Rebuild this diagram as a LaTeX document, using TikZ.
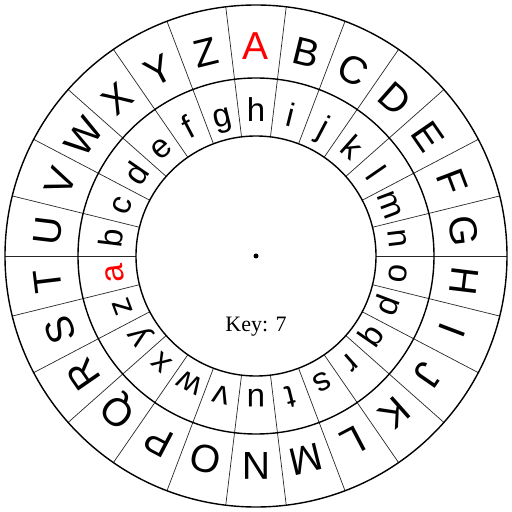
\documentclass[tikz,border=0pt]{standalone}
\usepackage{fontspec}
\newfontfamily\wheelfont{Liberation Sans}
\newfontfamily\keyfont{Liberation Serif}
\usetikzlibrary{calc}
\definecolor{wheelred}{RGB}{255,0,0}
\begin{document}
\begin{tikzpicture}[x=1pt,y=1pt,
  ring/.style={draw=black,line width=1.4pt},
  divider/.style={draw=black!85,line width=0.7pt},
  bigletter/.style={font=\wheelfont\fontsize{39}{39}\selectfont,anchor=base,inner sep=0pt},
  smallletter/.style={font=\wheelfont\fontsize{33}{33}\selectfont,anchor=base,inner sep=0pt},
  keytext/.style={font=\keyfont\fontsize{22}{22}\selectfont,anchor=base,inner sep=0pt}]
\useasboundingbox (0,0) rectangle (512,512);
\coordinate (c) at (256,256);
% dividers
\foreach \k in {0,...,25}{
  \pgfmathsetmacro{\ang}{90+360/52+\k*360/26}
  \draw[divider] ($(c)+(\ang:120)$) -- ($(c)+(\ang:251)$);
}
% rings
\draw[ring] (c) circle (251);
\draw[ring] (c) circle (178);
\draw[ring] (c) circle (120);
% outer letters
\foreach \L [count=\i from 0] in {A,B,C,D,E,F,G,H,I,J,K,L,M,N,O,P,Q,R,S,T,U,V,W,X,Y,Z}{
  \pgfmathsetmacro{\ang}{90-\i*360/26}
  \pgfmathsetmacro{\rot}{\ang-90}
  \ifnum\i=0
    \node[bigletter,text=wheelred,rotate=\rot] (O\i) at ($(c)+(\ang:196)$) {\L};
  \else
    \node[bigletter,rotate=\rot] (O\i) at ($(c)+(\ang:196)$) {\L};
  \fi
}
% inner letters
\foreach \L [count=\i from 0] in {a,b,c,d,e,f,g,h,i,j,k,l,m,n,o,p,q,r,s,t,u,v,w,x,y,z}{
  \pgfmathsetmacro{\ang}{90+(7-\i)*360/26}
  \pgfmathsetmacro{\rot}{\ang-90}
  \ifnum\i=0
    \node[smallletter,text=wheelred,rotate=\rot] (I\i) at ($(c)+(\ang:134)$) {\L};
  \else
    \node[smallletter,rotate=\rot] (I\i) at ($(c)+(\ang:134)$) {\L};
  \fi
}
% center
\fill[black] (c) circle (2.5);
\node[keytext] (key) at (256,180) {Key: 7};
\end{tikzpicture}
\end{document}
